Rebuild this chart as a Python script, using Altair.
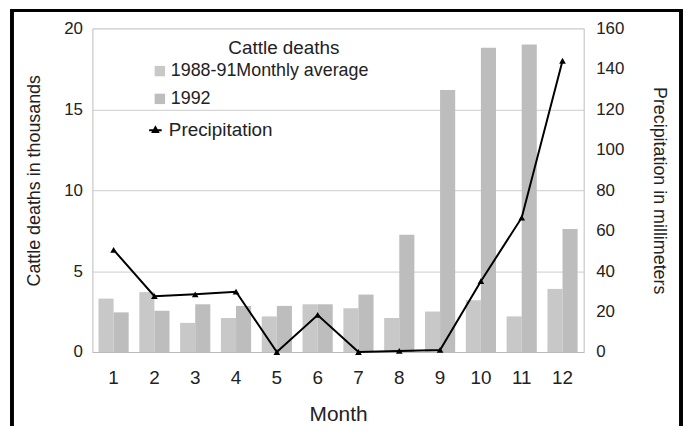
import altair as alt
import pandas as pd

months = list(range(1, 13))
avg_deaths = [3.3, 3.7, 1.8, 2.1, 2.2, 2.95, 2.7, 2.1, 2.5, 3.2, 2.2, 3.9]
deaths_1992 = [2.45, 2.55, 2.95, 2.85, 2.85, 2.95, 3.55, 7.25, 16.2, 18.8, 19.0, 7.6]
precip = [50.5, 27.6, 28.5, 29.8, 0, 18.3, 0, 0.5, 1, 35, 66.4, 144]
series = ["1988-91Monthly average", "1992"]

rows = []
for m, a, b in zip(months, avg_deaths, deaths_1992):
    rows.append({"month": m, "series": series[0], "deaths": a})
    rows.append({"month": m, "series": series[1], "deaths": b})
bars_df = pd.DataFrame(rows)
line_df = pd.DataFrame({"month": months, "precip": precip, "name": ["Precipitation"] * 12})

FONT = "Liberation Sans"
TXT = "#222222"

xscale = alt.Scale(paddingInner=0.26, paddingOuter=0.15)
xaxis = alt.Axis(labelAngle=0, labelFontSize=19, labelColor=TXT, titleFontSize=21,
                 titleColor=TXT, titleFontWeight="normal", ticks=False, domainColor="#bbbbbb",
                 labelPadding=17, titlePadding=16)

bars = alt.Chart(bars_df).mark_bar().encode(
    x=alt.X("month:O", title="Month", scale=xscale, axis=xaxis),
    xOffset=alt.XOffset("series:N", sort=series),
    y=alt.Y("deaths:Q", title="Cattle deaths in thousands",
            scale=alt.Scale(domain=[0, 20]),
            axis=alt.Axis(values=[0, 5, 10, 15, 20], grid=True, gridColor="#cccccc",
                          ticks=False, domainColor="#cccccc", labelFontSize=17,
                          labelColor=TXT, titleFontSize=18, titleColor=TXT,
                          titleFontWeight="normal", labelPadding=10, titlePadding=20,
                          titleY=153)),
    color=alt.Color("series:N", sort=series,
                    scale=alt.Scale(domain=series, range=["#c8c8c8", "#bdbdbd"]),
                    legend=alt.Legend(title=None, orient="none", legendX=59,
                                      legendY=34, labelFontSize=18, labelColor=TXT,
                                      symbolType="square", symbolSize=110,
                                      symbolStrokeWidth=0, rowPadding=10,
                                      labelOffset=2, labelLimit=400)),
)

line = alt.Chart(line_df).mark_line(
    color="black", strokeWidth=2,
    point=alt.OverlayMarkDef(shape="triangle-up", filled=True, size=45, color="black", opacity=1),
).encode(
    x=alt.X("month:O", scale=xscale, axis=xaxis, title="Month"),
    y=alt.Y("precip:Q", title="Precipitation in millimeters",
            scale=alt.Scale(domain=[0, 160]),
            axis=alt.Axis(orient="right", values=list(range(0, 161, 20)), grid=False,
                          ticks=False, domainColor="#cccccc", labelFontSize=17,
                          labelColor=TXT, titleFontSize=18, titleColor=TXT,
                          titleFontWeight="normal", labelPadding=12, titlePadding=26)),
    color=alt.Color("name:N", scale=alt.Scale(domain=["Precipitation"], range=["black"]),
                    legend=alt.Legend(title=None, orient="none", legendX=54, legendY=93,
                                      labelFontSize=19, labelColor=TXT,
                                      symbolType="M-1.2,0H1.2M0,-0.55L0.5,0.35L-0.5,0.35Z",
                                      symbolSize=110, symbolStrokeWidth=2,
                                      symbolStrokeColor="black", symbolFillColor="black",
                                      labelOffset=4)),
)

frame = alt.Chart(line_df).mark_rect(filled=False, stroke="black", strokeWidth=2.5).encode(
    x=alt.value(-81), x2=alt.value(593), y=alt.value(-18), y2=alt.value(430)
)

chart = alt.layer(bars, line, frame).resolve_scale(
    y="independent", color="independent"
).properties(
    width=495, height=326,
    autosize=alt.AutoSizeParams(type="none"),
    padding={"left": 85, "top": 19, "right": 100, "bottom": 73},
    title=alt.TitleParams("Cattle deaths", anchor="start", orient="none", frame="group",
                          offset=0, dx=137, dy=20, baseline="middle", fontSize=19,
                          fontWeight="normal", color=TXT),
).configure_view(stroke=None).configure(font=FONT)

chart.save("out.html", embed_options={"renderer": "svg", "actions": False})
